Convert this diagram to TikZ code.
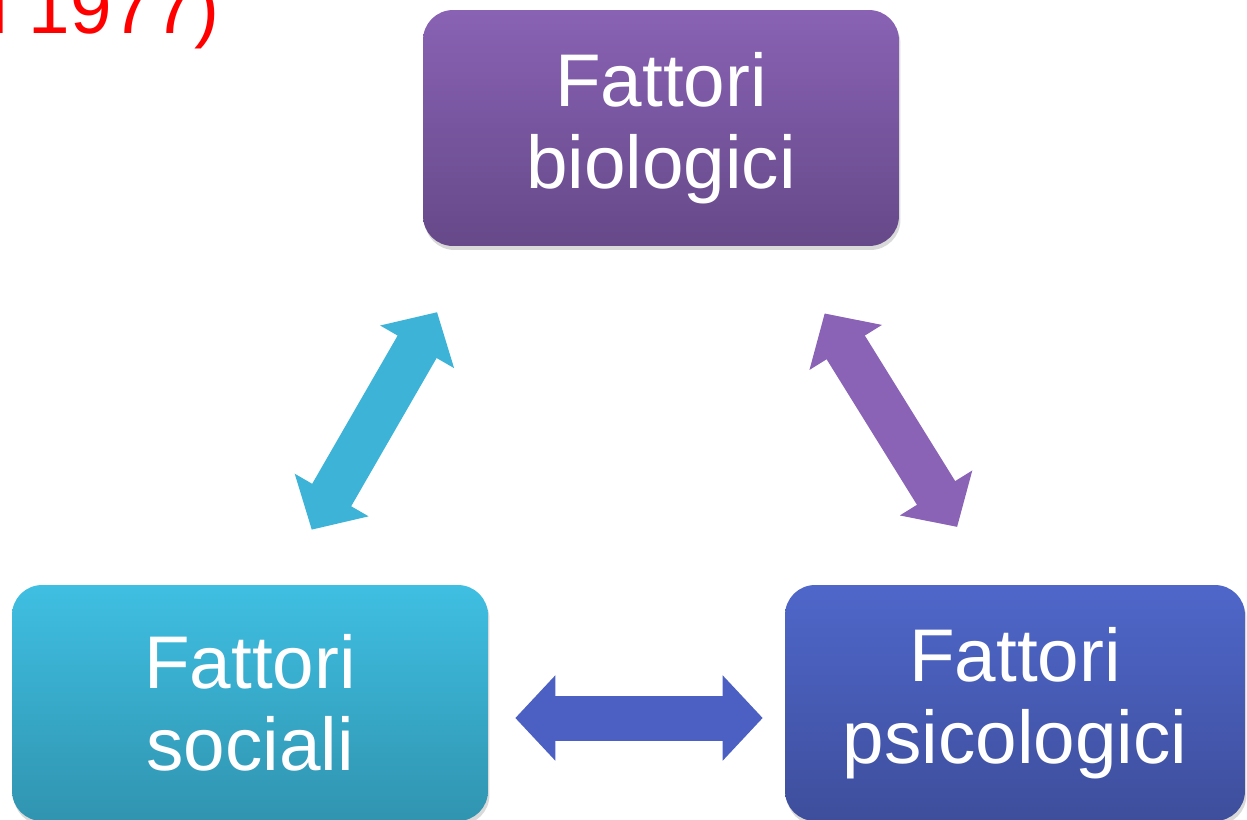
\documentclass[tikz,border=0pt]{standalone}
\usepackage{fontspec}
\setmainfont{Liberation Sans}
\usetikzlibrary{arrows.meta,shadows,positioning}

\definecolor{bioTop}{HTML}{8962B4}
\definecolor{bioBot}{HTML}{664989}
\definecolor{socTop}{HTML}{3FBFE2}
\definecolor{socBot}{HTML}{3094B0}
\definecolor{psiTop}{HTML}{4F67CA}
\definecolor{psiBot}{HTML}{3E4E9C}
\definecolor{socArrow}{HTML}{3CB3D7}
\definecolor{bioArrow}{HTML}{8A63B6}
\definecolor{psiArrow}{HTML}{4B60C2}

\tikzset{
  fattore/.style={rounded corners=0.6cm,minimum width=9.52cm,minimum height=4.72cm,
    align=center,text=white,font=\fontsize{42.5}{47}\selectfont,
    drop shadow={opacity=0.3,shadow xshift=0.03cm,shadow yshift=-0.08cm}},
  legame/.style={line width=0.9cm,draw=#1,
    arrows={Triangle[width=1.66cm,length=0.8cm]-Triangle[width=1.66cm,length=0.8cm]}}
}

\begin{document}
\begin{tikzpicture}[x=0.02cm,y=-0.02cm]
\useasboundingbox (0,0) rectangle (1247,819);

\node[anchor=base east,text=red,font=\fontsize{42.5}{47}\selectfont] (fonte) at (226,33) {l 1977)};

\node[fattore,top color=bioTop,bottom color=bioBot] (bio) at (661,128) {Fattori\\biologici};
\node[fattore,top color=socTop,bottom color=socBot] (soc) at (250,703) {Fattori\\sociali};
\node[fattore,top color=psiTop,bottom color=psiBot,minimum width=9.2cm] (psi) at (1015,703) {Fattori\\psicologici};

\draw[legame=socArrow,shorten <=1.27cm,shorten >=1.52cm] ([xshift=0.6cm]soc.north) -- ([xshift=-3.72cm]bio.south);
\draw[legame=bioArrow,shorten <=1.58cm,shorten >=1.36cm] ([xshift=2.44cm]bio.south) -- ([xshift=-0.44cm]psi.north);
\draw[legame=psiArrow,shorten <=0.54cm,shorten >=0.44cm] ([yshift=-0.3cm]soc.east) -- ([yshift=-0.3cm]psi.west);
\end{tikzpicture}
\end{document}
